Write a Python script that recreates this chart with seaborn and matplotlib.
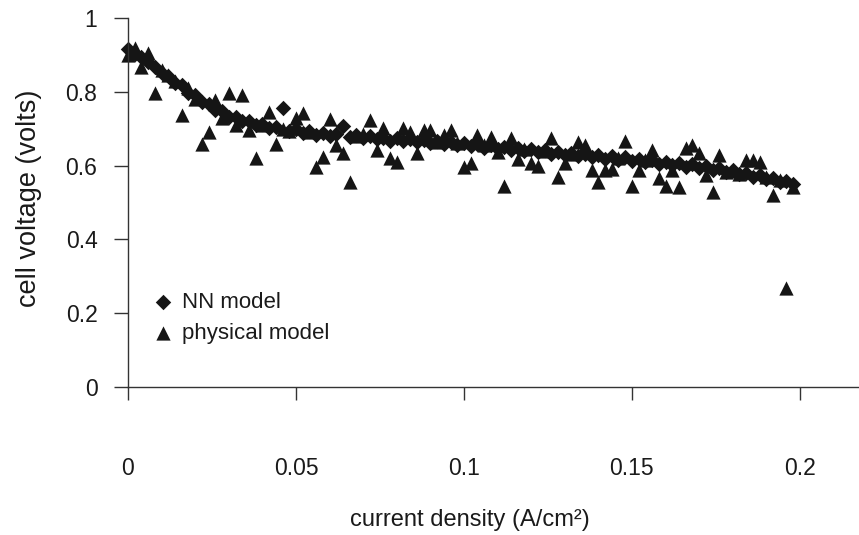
import matplotlib
matplotlib.use("Agg")
import matplotlib.pyplot as plt
import seaborn as sns
import pandas as pd

# ---------------- data ----------------
current_density = [
    0.000, 0.002, 0.004, 0.006, 0.008, 0.010, 0.012, 0.014, 0.016, 0.018,
    0.020, 0.022, 0.024, 0.026, 0.028, 0.030, 0.032, 0.034, 0.036, 0.038,
    0.040, 0.042, 0.044, 0.046, 0.048, 0.050, 0.052, 0.054, 0.056, 0.058,
    0.060, 0.062, 0.064, 0.066, 0.068, 0.070, 0.072, 0.074, 0.076, 0.078,
    0.080, 0.082, 0.084, 0.086, 0.088, 0.090, 0.092, 0.094, 0.096, 0.098,
    0.100, 0.102, 0.104, 0.106, 0.108, 0.110, 0.112, 0.114, 0.116, 0.118,
    0.120, 0.122, 0.124, 0.126, 0.128, 0.130, 0.132, 0.134, 0.136, 0.138,
    0.140, 0.142, 0.144, 0.146, 0.148, 0.150, 0.152, 0.154, 0.156, 0.158,
    0.160, 0.162, 0.164, 0.166, 0.168, 0.170, 0.172, 0.174, 0.176, 0.178,
    0.180, 0.182, 0.184, 0.186, 0.188, 0.190, 0.192, 0.194, 0.196, 0.198,
]

nn_model = [
    0.915, 0.903, 0.895, 0.880, 0.868, 0.851, 0.844, 0.824, 0.818, 0.798,
    0.791, 0.772, 0.768, 0.751, 0.748, 0.733, 0.733, 0.720, 0.721, 0.709,
    0.712, 0.701, 0.705, 0.757, 0.694, 0.698, 0.688, 0.693, 0.684, 0.689,
    0.681, 0.686, 0.708, 0.677, 0.682, 0.674, 0.679, 0.671, 0.676, 0.668,
    0.674, 0.666, 0.671, 0.663, 0.669, 0.661, 0.667, 0.658, 0.664, 0.656,
    0.661, 0.652, 0.658, 0.649, 0.655, 0.646, 0.651, 0.642, 0.648, 0.639,
    0.644, 0.636, 0.642, 0.632, 0.638, 0.629, 0.634, 0.625, 0.631, 0.622,
    0.628, 0.619, 0.625, 0.616, 0.622, 0.613, 0.618, 0.609, 0.615, 0.605,
    0.611, 0.601, 0.607, 0.597, 0.603, 0.593, 0.598, 0.588, 0.593, 0.582,
    0.587, 0.576, 0.581, 0.570, 0.575, 0.563, 0.567, 0.555, 0.559, 0.550,
]

physical_model = [
    0.900, 0.920, 0.868, 0.905, 0.796, 0.860, 0.845, 0.830, 0.737, 0.810,
    0.780, 0.658, 0.690, 0.778, 0.728, 0.796, 0.710, 0.791, 0.697, 0.620,
    0.710, 0.746, 0.659, 0.700, 0.695, 0.729, 0.742, 0.690, 0.597, 0.624,
    0.725, 0.656, 0.633, 0.556, 0.680, 0.685, 0.723, 0.642, 0.701, 0.620,
    0.611, 0.701, 0.692, 0.633, 0.697, 0.697, 0.665, 0.683, 0.697, 0.660,
    0.595, 0.606, 0.683, 0.655, 0.678, 0.638, 0.545, 0.674, 0.617, 0.645,
    0.606, 0.599, 0.640, 0.674, 0.570, 0.606, 0.632, 0.665, 0.656, 0.588,
    0.556, 0.588, 0.590, 0.620, 0.668, 0.545, 0.588, 0.615, 0.642, 0.566,
    0.545, 0.588, 0.541, 0.647, 0.656, 0.635, 0.575, 0.529, 0.629, 0.583,
    0.585, 0.578, 0.615, 0.615, 0.611, 0.570, 0.520, 0.561, 0.268, 0.543,
]

x_ticks = [0, 0.05, 0.1, 0.15, 0.2]
x_tick_labels = ["0", "0.05", "0.1", "0.15", "0.2"]
y_ticks = [0, 0.2, 0.4, 0.6, 0.8, 1.0]
y_tick_labels = ["0", "0.2", "0.4", "0.6", "0.8", "1"]

df_nn = pd.DataFrame({"current density": current_density, "cell voltage": nn_model})
df_ph = pd.DataFrame({"current density": current_density, "cell voltage": physical_model})

# ---------------- style ----------------
sns.set_theme(style="white")
plt.rcParams["font.family"] = ["Liberation Sans", "DejaVu Sans"]

W, H = 859, 535
fig = plt.figure(figsize=(W / 100, H / 100), dpi=100)
ax = fig.add_axes([128 / W, 1 - 387 / H, (W - 128) / W, (387 - 18) / H])

mark_color = "#151515"
sns.scatterplot(data=df_nn, x="current density", y="cell voltage", ax=ax,
                marker="D", s=62, color=mark_color, edgecolor=mark_color,
                linewidth=0, label="NN model", clip_on=False)
sns.scatterplot(data=df_ph, x="current density", y="cell voltage", ax=ax,
                marker="^", s=105, color=mark_color, edgecolor=mark_color,
                linewidth=0, label="physical model", clip_on=False)

ax.set_xlim(0, 0.2176)
ax.set_ylim(0, 1)
ax.set_xticks(x_ticks)
ax.set_xticklabels(x_tick_labels)
ax.set_yticks(y_ticks)
ax.set_yticklabels(y_tick_labels)

for side in ["top", "right"]:
    ax.spines[side].set_visible(False)
for side in ["left", "bottom"]:
    ax.spines[side].set_color("#333333")
    ax.spines[side].set_linewidth(1.0)

ax.tick_params(axis="both", which="major", direction="out", colors="#333333",
               width=1.0, labelcolor="#1a1a1a", labelsize=16.5, left=True, bottom=True)
ax.tick_params(axis="y", length=10, pad=12)
ax.tick_params(axis="x", length=9.5, pad=41)

ax.set_xlabel("current density (A/cm²)", fontsize=17, color="#1a1a1a")
ax.set_ylabel("cell voltage (volts)", fontsize=19.5, color="#1a1a1a")
ax.xaxis.label.set_verticalalignment("center")
ax.yaxis.label.set_verticalalignment("center")
ax.xaxis.set_label_coords(470 / W, 1 - 520 / H, transform=fig.transFigure)
ax.yaxis.set_label_coords(29 / W, 1 - 198 / H, transform=fig.transFigure)

leg = ax.legend(loc="upper left", bbox_to_anchor=(154 / W, 1 - 292 / H),
                bbox_transform=fig.transFigure, frameon=False, fontsize=16,
                handlelength=0.8, handletextpad=0.45, borderpad=0,
                borderaxespad=0, labelspacing=0.45)
for t in leg.get_texts():
    t.set_color("#1a1a1a")

fig.savefig("out.png", dpi=100, facecolor="white")
